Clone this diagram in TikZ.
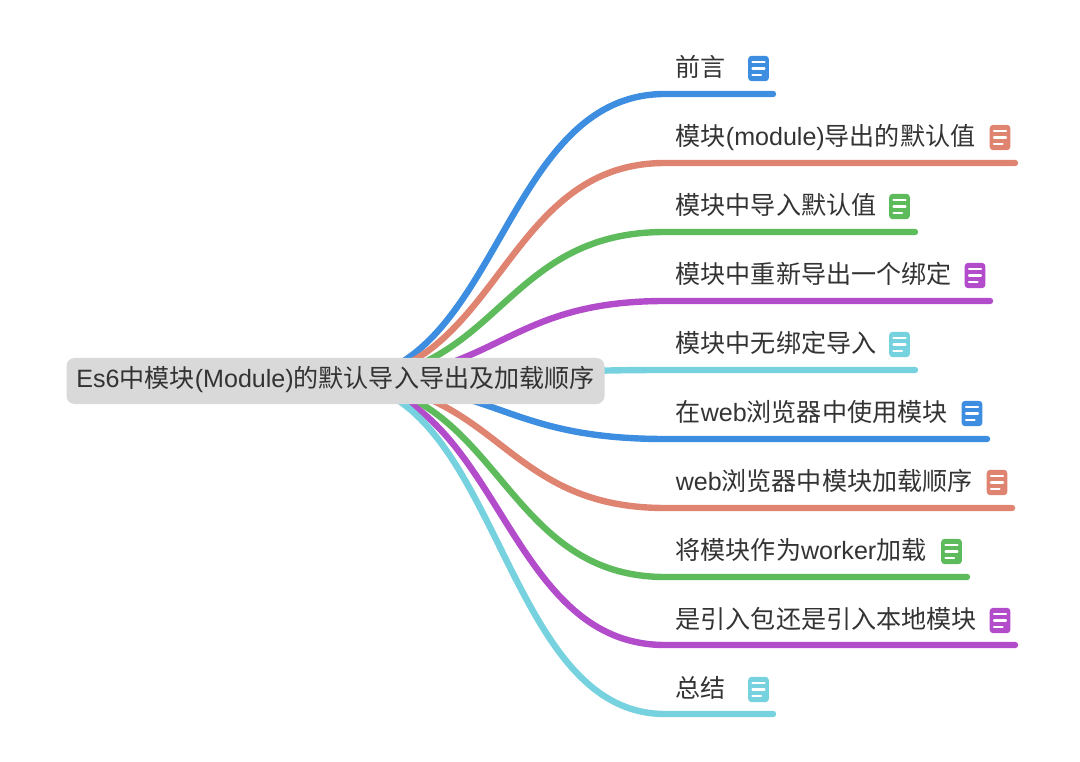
\documentclass[tikz,border=0pt]{standalone}
\usepackage{fontspec}
\setmainfont{Liberation Sans}
\newfontfamily\cjk{Noto Sans CJK SC}
\newcommand{\zh}[1]{{\cjk #1}}
\usepackage{xcolor}
\usetikzlibrary{positioning}
\definecolor{mapblue}{HTML}{3D8DE0}
\definecolor{mapred}{HTML}{E08472}
\definecolor{mapgreen}{HTML}{5DBB5B}
\definecolor{mappurple}{HTML}{B24CCB}
\definecolor{mapcyan}{HTML}{76D2DF}
\definecolor{maptext}{HTML}{333333}
\begin{document}
\begin{tikzpicture}[
      x=0.75pt, y=-0.75pt,
      font=\fontsize{18.8pt}{22pt}\selectfont,
      root/.style={fill=black!15, rounded corners=6pt, text=maptext, minimum width=403.5pt, minimum height=34.5pt, inner sep=0pt, text height=1em, text depth=0pt},
      topic/.style={anchor=west, inner sep=0pt, text=maptext, text height=1em, text depth=0pt},
      branch/.style={line width=4.8pt, line cap=round},
      note/.style={fill=#1, rounded corners=2.5pt, minimum width=15.5pt, minimum height=19pt, inner sep=0pt,
        path picture={
          \draw[white, line width=1.6pt, line cap=round]
            ([shift={(-4.5pt,4.7pt)}]path picture bounding box.center) -- ++(9pt,0pt)
            ([shift={(-4.5pt,0pt)}]path picture bounding box.center) -- ++(9pt,0pt)
            ([shift={(-4.5pt,-4.7pt)}]path picture bounding box.center) -- ++(6.5pt,0pt);
        }}
    ]
    \useasboundingbox (0,0) rectangle (1080,762);
    % centre of the map, drawn last so it covers the branches
    \coordinate (c) at (335.5,381);
    % labels
    \node[topic] (t1) at (675.5,70) {\zh{前言}};
    \node[topic] (t2) at (675.5,139) {\zh{模块}(module)\zh{导出的默认值}};
    \node[topic] (t3) at (675.5,208) {\zh{模块中导入默认值}};
    \node[topic] (t4) at (675.5,277) {\zh{模块中重新导出一个绑定}};
    \node[topic] (t5) at (675.5,346) {\zh{模块中无绑定导入}};
    \node[topic] (t6) at (675.5,415) {\zh{在}web\zh{浏览器中使用模块}};
    \node[topic] (t7) at (675.5,484) {web\zh{浏览器中模块加载顺序}};
    \node[topic] (t8) at (675.5,553) {\zh{将模块作为}worker\zh{加载}};
    \node[topic] (t9) at (675.5,622) {\zh{是引入包还是引入本地模块}};
    \node[topic] (t10) at (675.5,691) {\zh{总结}};
    % note icons
    \node[note=mapblue] (n1) at (758.5,68.5) {};
    \node[note=mapred] (n2) at (1000,137.5) {};
    \node[note=mapgreen] (n3) at (899.5,206.5) {};
    \node[note=mappurple] (n4) at (975,275.5) {};
    \node[note=mapcyan] (n5) at (899.5,344.5) {};
    \node[note=mapblue] (n6) at (972,413.5) {};
    \node[note=mapred] (n7) at (997,482.5) {};
    \node[note=mapgreen] (n8) at (951.5,551.5) {};
    \node[note=mappurple] (n9) at (1000,620.5) {};
    \node[note=mapcyan] (n10) at (758.5,689.5) {};
    % underline ends
    \coordinate (e1) at (773,94);
    \coordinate (e2) at (1015,163);
    \coordinate (e3) at (915,232);
    \coordinate (e4) at (990,301);
    \coordinate (e5) at (915,370);
    \coordinate (e6) at (987,439);
    \coordinate (e7) at (1012,508);
    \coordinate (e8) at (967,577);
    \coordinate (e9) at (1015,645);
    \coordinate (e10) at (773,714);
    % branches
    \draw[branch, mapblue] (c) .. controls (500,381) and (500,94) .. (665,94) -- (e1);
    \draw[branch, mapred] (c) .. controls (500,381) and (500,163) .. (665,163) -- (e2);
    \draw[branch, mapgreen] (c) .. controls (500,381) and (500,232) .. (665,232) -- (e3);
    \draw[branch, mappurple] (c) .. controls (500,381) and (500,301) .. (665,301) -- (e4);
    \draw[branch, mapcyan] (c) .. controls (500,381) and (500,370) .. (665,370) -- (e5);
    \draw[branch, mapblue] (c) .. controls (500,381) and (500,439) .. (665,439) -- (e6);
    \draw[branch, mapred] (c) .. controls (500,381) and (500,508) .. (665,508) -- (e7);
    \draw[branch, mapgreen] (c) .. controls (500,381) and (500,577) .. (665,577) -- (e8);
    \draw[branch, mappurple] (c) .. controls (500,381) and (500,645) .. (665,645) -- (e9);
    \draw[branch, mapcyan] (c) .. controls (500,381) and (500,714) .. (665,714) -- (e10);
    \node[root] (r) at (c) {Es6\zh{中模块}(Module)\zh{的默认导入导出及加载顺序}};
  \end{tikzpicture}
\end{document}
